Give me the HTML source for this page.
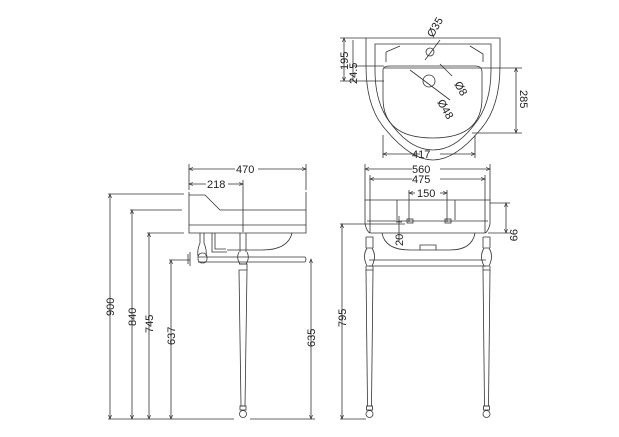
<!DOCTYPE html>
<html><head><meta charset="utf-8"><style>
html,body{margin:0;padding:0;background:#fff;}
svg{display:block;}
text{font-family:"Liberation Sans",sans-serif;font-size:11px;fill:#222;}
</style></head><body>
<svg width="619" height="437" viewBox="0 0 619 437" xmlns="http://www.w3.org/2000/svg">
<defs>
<marker id="a" markerWidth="6" markerHeight="6" refX="5" refY="3" orient="auto-start-reverse"><path d="M0,1 L5,3 L0,5" fill="none" stroke="#333" stroke-width="0.8"/></marker>
</defs>
<g stroke="#333" stroke-width="0.8" fill="none">
<!-- PLAN VIEW -->
<path d="M366,38 H500 V66 Q500,108 480,130 Q455,160 433,160 Q411,160 386,130 Q366,108 366,66 Z"/>
<path d="M375,44 H491 V70 Q491,105 474,125 Q455,150 433,150 Q411,150 392,125 Q375,105 375,70 Z"/>
<path d="M383,70 Q383,66 390,66 H475 Q482,66 482,72 V98 Q482,138 433,138 Q383,138 383,98 Z"/>
<path d="M386,52 L400,46 M470,46 L483,54 L483,62 M386,52 V62"/>
<circle cx="430" cy="52" r="4"/><circle cx="429" cy="81" r="6"/>
<line x1="410" y1="70" x2="450" y2="100"/><line x1="440" y1="40" x2="425" y2="60"/>
<line x1="440" y1="64" x2="452" y2="76"/>
<!-- plan dims -->
<line x1="340" y1="38" x2="366" y2="38"/><line x1="352" y1="66" x2="384" y2="66"/><line x1="340" y1="81" x2="384" y2="81"/>
<line x1="344" y1="38" x2="344" y2="81" marker-start="url(#a)" marker-end="url(#a)"/>
<line x1="353" y1="40" x2="353" y2="81"/>
<line x1="384" y1="68" x2="522" y2="68"/><line x1="472" y1="133" x2="522" y2="133"/>
<line x1="516" y1="68" x2="516" y2="133" marker-start="url(#a)" marker-end="url(#a)"/>
<line x1="383" y1="135" x2="383" y2="158"/><line x1="475" y1="135" x2="475" y2="158"/>
<line x1="383" y1="154" x2="420" y2="154" marker-start="url(#a)"/><line x1="440" y1="154" x2="475" y2="154" marker-end="url(#a)"/>

<!-- SIDE VIEW -->
<line x1="189" y1="164" x2="189" y2="190"/><line x1="306" y1="164" x2="306" y2="190"/><line x1="243" y1="180" x2="243" y2="232"/>
<line x1="189" y1="169" x2="235" y2="169" marker-start="url(#a)"/><line x1="258" y1="169" x2="306" y2="169" marker-end="url(#a)"/>
<line x1="189" y1="184" x2="206" y2="184" marker-start="url(#a)"/><line x1="228" y1="184" x2="243" y2="184" marker-end="url(#a)"/>
<path d="M189,195 H205 L220,210 H306 M189,192 V233 H306 V192 M189,225 H306"/>
<path d="M212,233 V252 H227 M215,233 V249 H226 M292,233 Q288,250 262,250 H227"/>
<path d="M200,233 V243 Q197,250 198,256 M204,233 V243 Q207,250 206,256"/>
<rect x="198" y="253" width="9" height="10" rx="4"/>
<path d="M190,252 V266 M188,254 V264"/>
<path d="M198,257 H305 Q307,259 305,262 H198"/>
<path d="M240,233 V252 M246,233 V252 M239,252 Q236,258 240,264 H246 Q250,258 247,252"/>
<path d="M239,270 H247 L245,406 H241 Z"/><path d="M239,264 H247 V270"/>
<rect x="240" y="406" width="6" height="4"/><circle cx="243" cy="414" r="3.5"/>
<!-- side dims -->
<line x1="108" y1="194" x2="184" y2="194"/><line x1="130" y1="210" x2="182" y2="210"/><line x1="147" y1="233" x2="184" y2="233"/><line x1="169" y1="260" x2="190" y2="260"/>
<line x1="108" y1="419" x2="234" y2="419"/><line x1="250" y1="419" x2="315" y2="419"/>
<line x1="110" y1="194" x2="110" y2="419" marker-start="url(#a)" marker-end="url(#a)"/>
<line x1="132" y1="210" x2="132" y2="419" marker-start="url(#a)" marker-end="url(#a)"/>
<line x1="149" y1="233" x2="149" y2="419" marker-start="url(#a)" marker-end="url(#a)"/>
<line x1="171" y1="260" x2="171" y2="419" marker-start="url(#a)" marker-end="url(#a)"/>
<line x1="311" y1="259" x2="311" y2="419" marker-start="url(#a)" marker-end="url(#a)"/>

<!-- FRONT VIEW -->
<line x1="365" y1="164" x2="365" y2="200"/><line x1="490" y1="164" x2="490" y2="200"/>
<line x1="370" y1="175" x2="370" y2="200"/><line x1="485" y1="175" x2="485" y2="200"/>
<line x1="409" y1="190" x2="409" y2="222"/><line x1="447" y1="190" x2="447" y2="222"/>
<line x1="365" y1="169" x2="412" y2="169" marker-start="url(#a)"/><line x1="440" y1="169" x2="490" y2="169" marker-end="url(#a)"/>
<line x1="370" y1="179" x2="412" y2="179" marker-start="url(#a)"/><line x1="440" y1="179" x2="485" y2="179" marker-end="url(#a)"/>
<line x1="409" y1="193" x2="415" y2="193" marker-start="url(#a)"/><line x1="440" y1="193" x2="447" y2="193" marker-end="url(#a)"/>
<path d="M365,200 H490 V224 Q488,232 485,233 H370 Q367,232 365,224 Z M370,200 V233 M485,200 V233 M397,200 V220 M455,200 V220 M367,221 H488"/>
<path d="M382,233 Q385,250 410,250 H450 Q472,250 475,233 M420,250 V245 H436 V250"/>
<rect x="407" y="219" width="6" height="4"/><rect x="445" y="219" width="6" height="4"/>
<line x1="399" y1="216" x2="399" y2="241"/><line x1="396" y1="222" x2="402" y2="222"/>
<line x1="490" y1="203" x2="510" y2="203"/><line x1="488" y1="233" x2="510" y2="233"/>
<line x1="506" y1="203" x2="506" y2="233" marker-start="url(#a)" marker-end="url(#a)"/>
<line x1="340" y1="224" x2="405" y2="224"/>
<line x1="342" y1="224" x2="342" y2="419" marker-start="url(#a)" marker-end="url(#a)"/>
<line x1="340" y1="419" x2="366" y2="419"/>
<path d="M369,260 H486 M369,266 H486"/>
<g id="leg">
<path d="M366,237 H373 V248 M367,248 Q362,256 367,266 H372 Q377,256 372,248 Z M366,237 V248"/>
<path d="M366,270 H373 L371.5,406 H367.5 Z M366,266 V270 M373,266 V270"/>
<rect x="366.5" y="406" width="6" height="4"/><circle cx="369.5" cy="414" r="3.5"/>
</g>
<use href="#leg" x="117"/>
</g>
<!-- labels -->
<text x="236" y="173">470</text>
<text x="207" y="188">218</text>
<text x="412" y="173">560</text>
<text x="412" y="183">475</text>
<text x="417" y="197">150</text>
<text x="412" y="158">417</text>
<text transform="translate(114,316) rotate(-90)">900</text>
<text transform="translate(136,326) rotate(-90)">840</text>
<text transform="translate(153,333) rotate(-90)">745</text>
<text transform="translate(175,345) rotate(-90)">637</text>
<text transform="translate(315,347) rotate(-90)">635</text>
<text transform="translate(346,327) rotate(-90)">795</text>
<text transform="translate(403,246) rotate(-90)">20</text>
<text transform="translate(510,229) rotate(90)">99</text>
<text transform="translate(348,70) rotate(-90)">195</text>
<text transform="translate(357,84) rotate(-90)">24.5</text>
<text transform="translate(520,90) rotate(90)">285</text>
<text transform="translate(433,38) rotate(-60)">Ø35</text>
<text transform="translate(454,84) rotate(60)">Ø8</text>
<text transform="translate(437,102) rotate(60)">Ø48</text>
</svg>
</body></html>
